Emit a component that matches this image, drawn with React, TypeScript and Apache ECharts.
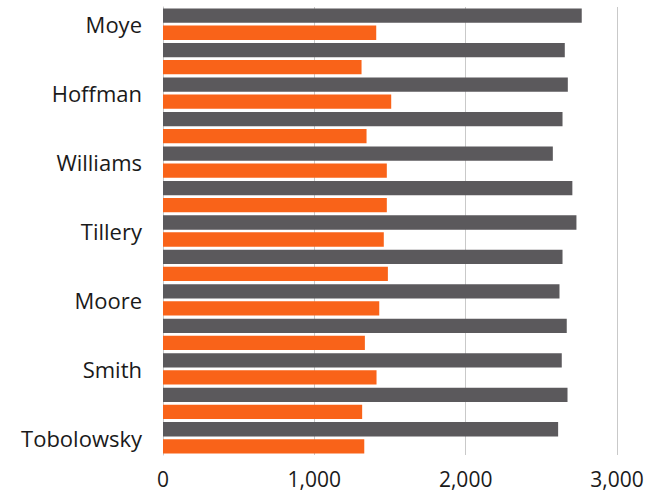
import React, { useEffect, useRef } from "react";
import * as echarts from "echarts";

const categories = [
  "Moye", "", "Hoffman", "", "Williams", "", "Tillery", "", "Moore", "", "Smith", "", "Tobolowsky",
];
const greyValues = [2767, 2655, 2675, 2640, 2576, 2705, 2732, 2640, 2620, 2668, 2635, 2673, 2611];
const orangeValues = [1409, 1312, 1508, 1345, 1479, 1479, 1459, 1486, 1429, 1334, 1411, 1316, 1330];
const xTicks = [0, 1000, 2000, 3000];

const FONT = "'Open Sans', sans-serif";

export default function App() {
  const ref = useRef<HTMLDivElement>(null);
  useEffect(() => {
    if (!ref.current) return;
    const chart = echarts.init(ref.current, undefined, { renderer: "svg" });
    chart.setOption({
      animation: false,
      backgroundColor: "#ffffff",
      grid: { left: 163, right: 43, top: 7, bottom: 38, containLabel: false },
      xAxis: {
        type: "value",
        min: xTicks[0],
        max: xTicks[xTicks.length - 1],
        interval: 1000,
        axisLine: { show: false },
        axisTick: { show: false },
        splitLine: { show: true, lineStyle: { color: "#c9c9c9", width: 1 } },
        axisLabel: {
          color: "#1a1a1a",
          fontFamily: FONT,
          fontSize: 21,
          lineHeight: 21,
          margin: 13,
          formatter: (v: number) => v.toLocaleString("en-US"),
        },
      },
      yAxis: {
        type: "category",
        data: categories,
        inverse: true,
        axisLine: { show: true, lineStyle: { color: "#c9c9c9", width: 1 } },
        axisTick: { show: false },
        axisLabel: {
          interval: 0,
          color: "#1a1a1a",
          fontFamily: FONT,
          fontSize: 22,
          margin: 21,
        },
      },
      series: [
        {
          type: "bar",
          data: greyValues,
          barWidth: 14.3,
          barGap: "19%",
          itemStyle: { color: "#5b595c" },
        },
        {
          type: "bar",
          data: orangeValues,
          barWidth: 14.3,
          barGap: "19%",
          itemStyle: { color: "#f96319" },
        },
      ],
    });
    return () => chart.dispose();
  }, []);
  return <div ref={ref} style={{ width: 660, height: 493, position: "absolute", left: 0, top: 0 }} />;
}
